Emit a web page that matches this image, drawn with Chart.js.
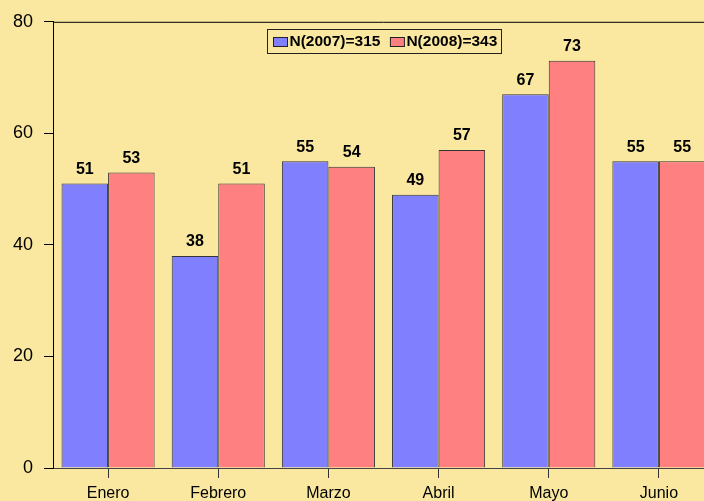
<!doctype html>
<html>
<head>
<meta charset="utf-8" />
<script src="https://cdn.jsdelivr.net/npm/chart.js@4"></script>
<style>
  html, body { margin: 0; padding: 0; overflow: hidden; background: #FAE8A0; }
  #wrap { width: 724px; height: 501px; }
</style>
</head>
<body>
<div id="wrap"><canvas id="c"></canvas></div>
<script>
  const months = ["Enero", "Febrero", "Marzo", "Abril", "Mayo", "Junio"];
  const values2007 = [51, 38, 55, 49, 67, 55];
  const values2008 = [53, 51, 54, 57, 73, 55];
  const seriesNames = ["N(2007)=315", "N(2008)=343"];
  const yTicks = [0, 20, 40, 60, 80];

  const FONT = "'Liberation Sans', Arial, sans-serif";

  // numbers above each bar
  const valueLabels = {
    id: "valueLabels",
    afterDatasetsDraw(chart) {
      const ctx = chart.ctx;
      ctx.save();
      ctx.font = "bold 16px " + FONT;
      ctx.fillStyle = "#000";
      ctx.textAlign = "center";
      ctx.textBaseline = "middle";
      chart.data.datasets.forEach((ds, i) => {
        chart.getDatasetMeta(i).data.forEach((bar, j) => {
          ctx.fillText(ds.data[j], bar.x, bar.y - 14);
        });
      });
      ctx.restore();
    }
  };

  // top frame line + legend box inside the plot
  const frame = {
    id: "frame",
    afterDraw(chart) {
      const { ctx, chartArea } = chart;
      ctx.save();
      ctx.strokeStyle = "#000";
      ctx.lineWidth = 1;
      ctx.beginPath();
      ctx.moveTo(chartArea.left, chartArea.top + 0.5);
      ctx.lineTo(chartArea.right, chartArea.top + 0.5);
      ctx.stroke();

      ctx.font = "bold 15.5px " + FONT;
      const items = chart.data.datasets.map(ds => ({
        label: ds.label, color: ds.backgroundColor, w: ctx.measureText(ds.label).width
      }));
      const sw = 14, gap = 2, between = 10, padL = 6, padR = 4;
      let total = padL + padR;
      items.forEach((it, i) => { total += sw + gap + it.w + (i ? between : 0); });
      total = Math.round(total);
      const cx = (chartArea.left + chartArea.right) / 2;
      let x = Math.round(cx - total / 2) + 0.5;
      const top = 29.5, h = 24;
      ctx.strokeStyle = "#222";
      ctx.strokeRect(x, top, total, h);
      x += padL;
      ctx.textBaseline = "middle";
      ctx.textAlign = "left";
      items.forEach((it, i) => {
        if (i) x += between;
        ctx.fillStyle = it.color;
        ctx.fillRect(x, 37.5, sw, 9);
        ctx.strokeStyle = "#222";
        ctx.strokeRect(x, 37.5, sw, 9);
        x += sw + gap;
        ctx.fillStyle = "#000";
        ctx.fillText(it.label, x, top + h / 2 + 0.5);
        x += it.w;
      });
      ctx.restore();
    }
  };

  new Chart(document.getElementById("c"), {
    type: "bar",
    data: {
      labels: months,
      datasets: [
        { label: seriesNames[0], data: values2007, backgroundColor: "#8080FF", borderColor: "#333", borderWidth: 1 },
        { label: seriesNames[1], data: values2008, backgroundColor: "#FF8080", borderColor: "#333", borderWidth: 1 }
      ]
    },
    options: {
      responsive: true,
      maintainAspectRatio: false,
      devicePixelRatio: 1,
      animation: false,
      layout: { padding: { top: 20, right: 10, left: 0, bottom: 0 } },
      datasets: { bar: { categoryPercentage: 0.845, barPercentage: 1 } },
      plugins: { legend: { display: false }, tooltip: { enabled: false } },
      scales: {
        x: {
          afterFit(s) { s.height = 33; },
          border: { color: "#444", width: 1 },
          grid: { drawOnChartArea: false, offset: false, tickLength: 10, color: "#333" },
          ticks: { font: { family: FONT, size: 16 }, color: "#000", padding: 6 }
        },
        y: {
          min: 0, max: 80,
          afterFit(s) { s.width = 53; },
          afterBuildTicks(s) { s.ticks = yTicks.map(v => ({ value: v })); },
          border: { color: "#000", width: 1 },
          grid: { drawOnChartArea: false, tickLength: 9, color: "#000" },
          ticks: { font: { family: FONT, size: 18 }, color: "#000", padding: 11 }
        }
      }
    },
    plugins: [valueLabels, frame]
  });
</script>
</body>
</html>
